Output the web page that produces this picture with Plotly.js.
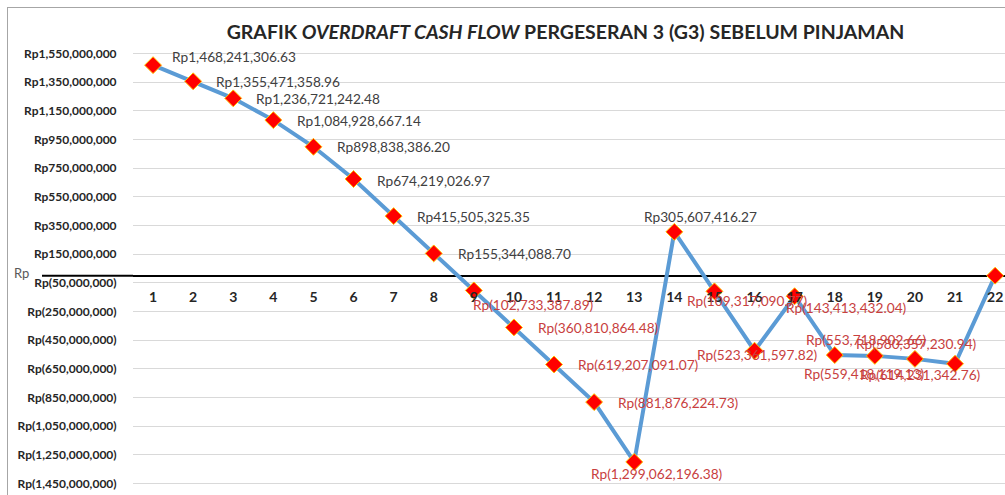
<!DOCTYPE html>
<html>
<head>
<meta charset="utf-8">
<script src="https://cdn.plot.ly/plotly-3.0.1.min.js"></script>
<style>
  html, body { margin: 0; padding: 0; background: #fff; overflow: hidden; }
  #chart { width: 1005px; height: 495px; }
  #frame { position: absolute; left: 7px; top: 7px; width: 1200px; height: 700px;
           border: 1px solid #A6A6A6; pointer-events: none; }
</style>
</head>
<body>
<div id="chart"></div>
<div id="frame"></div>
<script>
// ---- data ----
const categories = ['1','2','3','4','5','6','7','8','9','10','11','12','13','14','15','16','17','18','19','20','21','22'];
const cashFlow = [
  1468241306.63, 1355471358.96, 1236721242.48, 1084928667.14, 898838386.20,
  674219026.97, 415505325.35, 155344088.70, -102733387.89, -360810864.48,
  -619207091.07, -881876224.73, -1299062196.38, 305607416.27, -109317090.77,
  -523361597.82, -143413432.04, -553718902.66, -559418119.13, -580357230.94,
  -614231342.76, 0
];
const showLabel = [true,true,true,true,true,true,true,true,true,true,true,true,true,true,true,true,true,true,true,true,true,false];
const yTickVals = [1550000000, 1350000000, 1150000000, 950000000, 750000000, 550000000,
  350000000, 150000000, -50000000, -250000000, -450000000, -650000000, -850000000,
  -1050000000, -1250000000, -1450000000];
const yRange = [-1460000000, 1560000000];

// ---- label placement (style, not data) ----
const labelDx = [17,21,21,22,22,21,21,22,-3,22,22,22,-45,-32,-29,-60,-11,-31,-73,-61,-97,0];
const labelDy = [9,0,0,0,0,-1,0,0,-14,0,0,0,-12,15,-9,-4,-11,16,-18,15,-11,0];

function fmtRp(v, dec) {
  const s = Math.abs(v).toLocaleString('en-US', {minimumFractionDigits: dec, maximumFractionDigits: dec});
  return v < 0 ? 'Rp(' + s + ')' : 'Rp' + s;
}

const annotations = [];
for (let i = 0; i < categories.length; i++) {
  if (!showLabel[i]) continue;
  const neg = cashFlow[i] < 0;
  annotations.push({
    x: i, y: cashFlow[i], xref: 'x', yref: 'y',
    text: fmtRp(cashFlow[i], 2), showarrow: false,
    xanchor: 'left', yanchor: 'middle',
    xshift: labelDx[i], yshift: labelDy[i],
    font: {family: 'Lato, sans-serif', size: 13.7, color: neg ? '#C8403E' : '#404040'}
  });
}
// zero tick label (accounting "Rp -")
annotations.push({
  xref: 'paper', yref: 'y', x: 0, y: 0, xshift: -121, yshift: 3,
  xanchor: 'left', yanchor: 'middle', showarrow: false, text: 'Rp',
  font: {family: 'Lato, sans-serif', size: 13, color: '#595959'}
});

const trace = {
  type: 'scatter', mode: 'lines+markers',
  x: categories, y: cashFlow,
  line: {color: '#5B9BD5', width: 4},
  marker: {symbol: 'diamond', size: 13, color: '#FF0000', line: {color: '#FFC000', width: 1}},
  cliponaxis: false, hoverinfo: 'skip'
};

const layout = {
  width: 1005, height: 495,
  margin: {l: 133, r: 0, t: 52, b: 10},
  paper_bgcolor: '#ffffff', plot_bgcolor: '#ffffff',
  showlegend: false,
  title: {
    text: '<b>GRAFIK <i>OVERDRAFT CASH FLOW</i> PERGESERAN 3 (G3) SEBELUM PINJAMAN</b>',
    font: {family: 'Lato, sans-serif', size: 19.5, color: '#262626'},
    x: 0.496, xref: 'paper', xanchor: 'center',
    y: 1 - 32/495, yref: 'container', yanchor: 'middle'
  },
  xaxis: {
    type: 'category', range: [-0.5, 21.246],
    anchor: 'free', position: (0 - yRange[0]) / (yRange[1] - yRange[0]),
    showgrid: false, zeroline: false,
    showline: false,
    ticks: 'outside', ticklen: 9, tickcolor: 'rgba(0,0,0,0)',
    tickfont: {family: 'Lato, sans-serif', size: 14, color: '#262626', weight: 'bold'}
  },
  yaxis: {
    range: yRange, tickvals: yTickVals,
    ticktext: yTickVals.map(v => '<b>' + fmtRp(v, 0) + '</b>'),
    showgrid: true, gridcolor: '#D9D9D9', gridwidth: 1,
    zeroline: true, zerolinecolor: '#000000', zerolinewidth: 2,
    showline: false,
    ticks: 'outside', ticklen: 13, tickcolor: 'rgba(0,0,0,0)',
    tickfont: {family: 'Lato, sans-serif', size: 12, color: '#262626'}
  },
  shapes: [{
    type: 'line', xref: 'paper', yref: 'y',
    x0: -91/872, x1: 0, y0: 0, y1: 0,
    line: {color: '#000000', width: 2}
  }],
  annotations: annotations
};

Plotly.newPlot('chart', [trace], layout, {displayModeBar: false, staticPlot: true});
</script>
</body>
</html>
